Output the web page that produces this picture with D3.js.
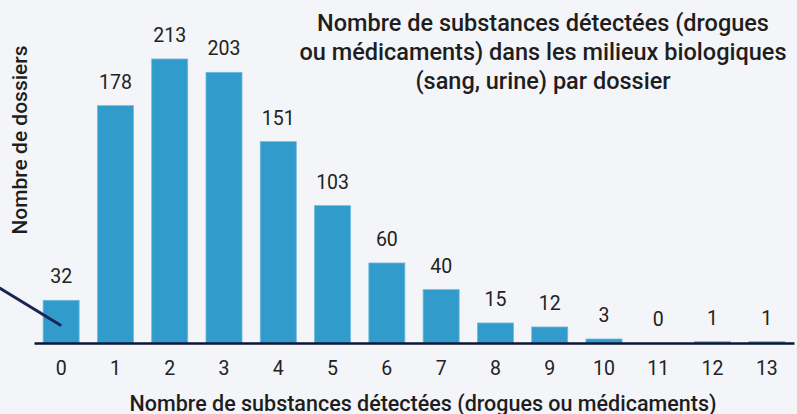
<!DOCTYPE html>
<html>
<head>
<meta charset="utf-8">
<script src="https://cdn.jsdelivr.net/npm/d3@7"></script>
<style>
  html, body { margin: 0; padding: 0; background: #f4f5f8; }
  svg { display: block; font-family: Roboto, "Noto Sans", sans-serif; }
</style>
</head>
<body>
<div id="chart"></div>
<script>
const categories = ["0", "1", "2", "3", "4", "5", "6", "7", "8", "9", "10", "11", "12", "13"];
const dossiers = [32, 178, 213, 203, 151, 103, 60, 40, 15, 12, 3, 0, 1, 1];
const titleLines = [
  "Nombre de substances détectées (drogues",
  "ou médicaments) dans les milieux biologiques",
  "(sang, urine) par dossier"
];
const xTitle = "Nombre de substances détectées (drogues ou médicaments)";
const yTitle = "Nombre de dossiers";
// pointer drawn from the left edge down into the first bar (levels in dossiers)
const pointerLevels = [41, 13.5];

const width = 797, height = 414;
const margin = {top: 59, right: 3, bottom: 71, left: 34};

const svg = d3.select("#chart")
  .append("svg")
  .attr("width", width)
  .attr("height", height);

svg.append("rect")
  .attr("width", width)
  .attr("height", height)
  .attr("fill", "#f4f5f8");

const x = d3.scaleBand()
  .domain(categories)
  .range([margin.left, width - margin.right])
  .paddingInner(0.337)
  .paddingOuter(0.1685);

const y = d3.scaleLinear()
  .domain([0, d3.max(dossiers)])
  .range([height - margin.bottom, margin.top]);

const data = categories.map((c, i) => ({cat: c, val: dossiers[i]}));

// bars
svg.append("g")
  .selectAll("rect")
  .data(data)
  .join("rect")
  .attr("x", d => x(d.cat))
  .attr("y", d => y(d.val))
  .attr("width", x.bandwidth())
  .attr("height", d => y(0) - y(d.val))
  .attr("fill", "#319ccb")
  .attr("stroke", "#6cb8dc")
  .attr("stroke-width", 0.8);

// value labels
svg.append("g")
  .selectAll("text")
  .data(data)
  .join("text")
  .attr("x", d => x(d.cat) + x.bandwidth() / 2)
  .attr("y", d => y(d.val) - 17)
  .attr("text-anchor", "middle")
  .attr("fill", "#222")
  .style("font-size", "19.5px")
  .text(d => d.val);

// x axis
const xAxis = svg.append("g")
  .attr("class", "axis")
  .attr("transform", `translate(0,${y(0)})`)
  .call(d3.axisBottom(x).tickSize(0).tickPadding(18));

xAxis.select(".domain")
  .attr("stroke", "#0c1638")
  .attr("stroke-width", 2.5);

xAxis.selectAll("text")
  .attr("fill", "#222")
  .style("font-size", "19.5px")
  .style("font-family", "Roboto, sans-serif");

// pointer line
svg.append("line")
  .attr("x1", 0)
  .attr("y1", y(pointerLevels[0]))
  .attr("x2", x(categories[0]) + x.bandwidth() / 2 - 1)
  .attr("y2", y(pointerLevels[1]))
  .attr("stroke", "#1c2455")
  .attr("stroke-width", 3)
  .attr("stroke-linecap", "round");

// title
svg.append("text")
  .attr("x", 543)
  .attr("y", 31)
  .attr("text-anchor", "middle")
  .attr("fill", "#1e1e1e")
  .style("font-size", "23.5px")
  .style("font-weight", 500)
  .selectAll("tspan")
  .data(titleLines)
  .join("tspan")
  .attr("x", 543)
  .attr("dy", (d, i) => i === 0 ? 0 : 29)
  .text(d => d);

// axis titles
svg.append("text")
  .attr("x", 423)
  .attr("y", 411)
  .attr("text-anchor", "middle")
  .attr("fill", "#1e1e1e")
  .style("font-size", "21.5px")
  .style("font-weight", 500)
  .text(xTitle);

svg.append("text")
  .attr("transform", "translate(27,140) rotate(-90)")
  .attr("text-anchor", "middle")
  .attr("fill", "#1e1e1e")
  .style("font-size", "21px")
  .style("font-weight", 500)
  .text(yTitle);
</script>
</body>
</html>
